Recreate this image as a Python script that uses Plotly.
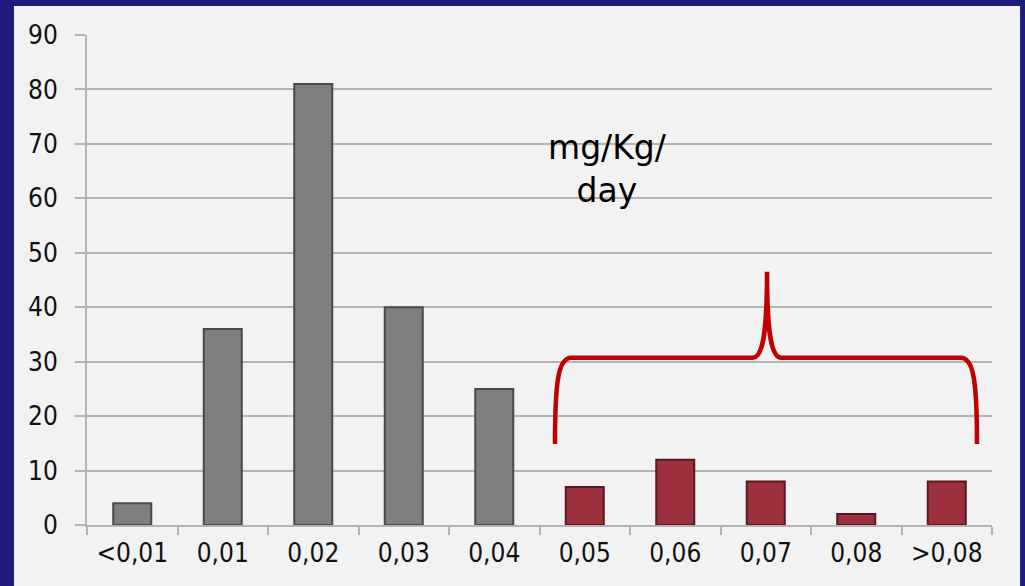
import plotly.graph_objects as go

# ---- data ----
categories = ["<0,01", "0,01", "0,02", "0,03", "0,04", "0,05", "0,06", "0,07", "0,08", ">0,08"]
counts = [4, 36, 81, 40, 25, 7, 12, 8, 2, 8]
highlighted = [False, False, False, False, False, True, True, True, True, True]
y_ticks = [0, 10, 20, 30, 40, 50, 60, 70, 80, 90]
unit_label = "mg/Kg/<br>day"

# ---- styles ----
GRAY_FILL, GRAY_LINE = "#7f7f7f", "#4a4a4a"
RED_FILL, RED_LINE = "#9b2f3b", "#5a1820"
GRID = "#b4b4b4"
BRACE = "#c00000"
FONT = "DejaVu Sans Condensed"

xs = list(range(len(categories)))
fills = [RED_FILL if h else GRAY_FILL for h in highlighted]
lines = [RED_LINE if h else GRAY_LINE for h in highlighted]

fig = go.Figure()
fig.add_trace(go.Bar(
    x=xs, y=counts, width=0.42,
    marker=dict(color=fills, line=dict(color=lines, width=2)),
    hoverinfo="skip",
))

# brace over the highlighted group (annotation, in axis units)
bx0, bx1, bpk = 4.671, 9.334, 7.014
by_end, by_mid, by_top = 14.9, 30.7, 46.5
brace_path = (
    f"M {bx0},{by_end} C {bx0},{by_mid-4} {bx0+0.04},{by_mid} {bx0+0.18},{by_mid} "
    f"L {bpk-0.16},{by_mid} "
    f"C {bpk-0.04},{by_mid} {bpk},{by_mid+5} {bpk},{by_top} "
    f"C {bpk},{by_mid+5} {bpk+0.04},{by_mid} {bpk+0.16},{by_mid} "
    f"L {bx1-0.18},{by_mid} "
    f"C {bx1-0.04},{by_mid} {bx1},{by_mid-4} {bx1},{by_end}"
)

fig.update_layout(
    width=1025, height=586,
    margin=dict(l=87, r=33, t=35, b=61),
    paper_bgcolor="#1d1b7c",
    plot_bgcolor="#f2f2f2",
    showlegend=False,
    font=dict(family=FONT, size=26, color="#111111"),
    shapes=[
        dict(type="rect", xref="paper", yref="paper",
             x0=-0.0807, x1=1.031, y0=-0.14, y1=1.0592,
             fillcolor="#f2f2f2", line=dict(width=0), layer="below"),
        dict(type="path", xref="x", yref="y", path=brace_path,
             line=dict(color=BRACE, width=4.5), layer="above"),
    ],
    annotations=[
        dict(x=5.246, y=65.4, xref="x", yref="y", text=unit_label,
             showarrow=False, font=dict(family="DejaVu Sans", size=33, color="#000000"),
             align="center"),
    ],
)

fig.update_xaxes(
    range=[-0.5, len(categories) - 0.5],
    tickmode="array", tickvals=xs, ticktext=categories,
    ticks="", showgrid=False, zeroline=False,
    showline=True, linecolor=GRID, linewidth=2,
    minor=dict(tickmode="array", tickvals=[i - 0.5 for i in range(len(categories) + 1)],
               ticks="outside", ticklen=8, tickwidth=2, tickcolor=GRID, showgrid=False),
    ticklabelstandoff=4,
    tickfont=dict(family=FONT, size=26, color="#111111"),
)
fig.update_yaxes(
    range=[0, 90], tickmode="array", tickvals=y_ticks,
    showgrid=True, gridcolor=GRID, gridwidth=2,
    ticks="outside", ticklen=10, tickwidth=2, tickcolor=GRID,
    showline=True, linecolor=GRID, linewidth=2, zeroline=False,
    ticklabelstandoff=12,
    tickfont=dict(family=FONT, size=26, color="#111111"),
)

fig.write_html("out.html")
